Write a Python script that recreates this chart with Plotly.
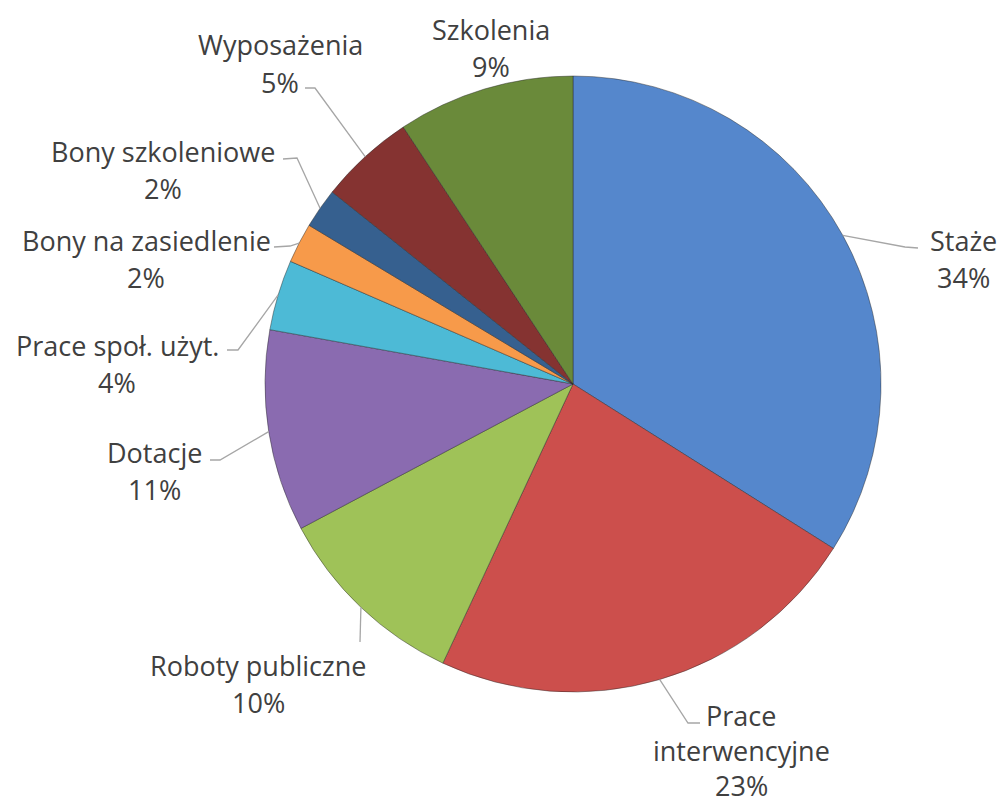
import math
import plotly.graph_objects as go

# ---- data ----
labels = ["Staże", "Prace interwencyjne", "Roboty publiczne", "Dotacje",
          "Prace społ. użyt.", "Bony na zasiedlenie", "Bony szkoleniowe",
          "Wyposażenia", "Szkolenia"]
label_lines = [["Staże"], ["Prace", "interwencyjne"], ["Roboty publiczne"], ["Dotacje"],
               ["Prace społ. użyt."], ["Bony na zasiedlenie"], ["Bony szkoleniowe"],
               ["Wyposażenia"], ["Szkolenia"]]
values = [34.0, 23.0, 10.3, 10.6, 3.7, 2.1, 2.1, 5.0, 9.3]
colors = ["#5587CC", "#CC4F4C", "#9FC258", "#8A6BB0", "#4DBAD6",
          "#F79A4A", "#36608F", "#853331", "#6A8A3A"]

# ---- layout constants (pixels) ----
W, H = 1000, 805
CX, CY, R = 573, 384, 308
FONT = "Open Sans"
FS = 27
TXT = "#404040"

# label text anchor (center x, first line center y, line spacing)
label_pos = [(963, 241, 37), (741, 715, 35), (258, 665, 37), (154, 452, 37),
             (117, 345, 37), (146, 241, 37), (163, 152, 37), (280, 45, 37),
             (491, 30, 37)]
# leader line: bend point and end point (None = no leader)
leader_pts = [
    [(905, 247), (918, 248)],
    [(688, 723), (700, 723)],
    [(360, 642)],
    [(220, 460), (210, 460)],
    [(238, 350), (227, 350)],
    [(290, 246), (274, 247)],
    [(297, 158), (283, 159)],
    [(315, 88), (305, 88)],
    None,
]

def px(x):
    return x / W

def py(y):
    return 1 - y / H

fig = go.Figure()
fig.add_trace(go.Pie(
    labels=labels, values=values, sort=False, direction="clockwise", rotation=0,
    marker=dict(colors=colors, line=dict(color="rgba(40,40,40,0.45)", width=1)),
    textinfo="none", hoverinfo="label+percent", showlegend=False,
    domain=dict(x=[px(CX - R), px(CX + R)], y=[py(CY + R), py(CY - R)]),
))

total = sum(values)
annotations = []
shapes = []
cum = 0.0
for i, v in enumerate(values):
    mid = (cum + v / 2) / total * 2 * math.pi
    cum += v
    sx = CX + R * math.sin(mid)
    sy = CY - R * math.cos(mid)
    pct = f"{round(v / total * 100)}%"
    lines = label_lines[i] + [pct]
    lx, ly, lh = label_pos[i]
    for k, t in enumerate(lines):
        annotations.append(dict(
            x=px(lx), y=py(ly + k * lh), xref="paper", yref="paper",
            text=t, showarrow=False, xanchor="center", yanchor="middle",
            borderpad=0,
            font=dict(family=FONT, size=FS, color=TXT)))
    if leader_pts[i]:
        pts = [(sx, sy)] + leader_pts[i]
        path = "M " + " L ".join(f"{px(a)},{py(b)}" for a, b in pts)
        shapes.append(dict(type="path", path=path, xref="paper", yref="paper",
                           line=dict(color="#A6A6A6", width=1.3)))

fig.update_layout(
    width=W, height=H, margin=dict(l=0, r=0, t=0, b=0),
    paper_bgcolor="white", plot_bgcolor="white",
    annotations=annotations, shapes=shapes,
)
fig.write_html("out.html", config={"displayModeBar": False},
               post_script="document.body.style.margin='0';document.body.style.overflow='hidden';")
